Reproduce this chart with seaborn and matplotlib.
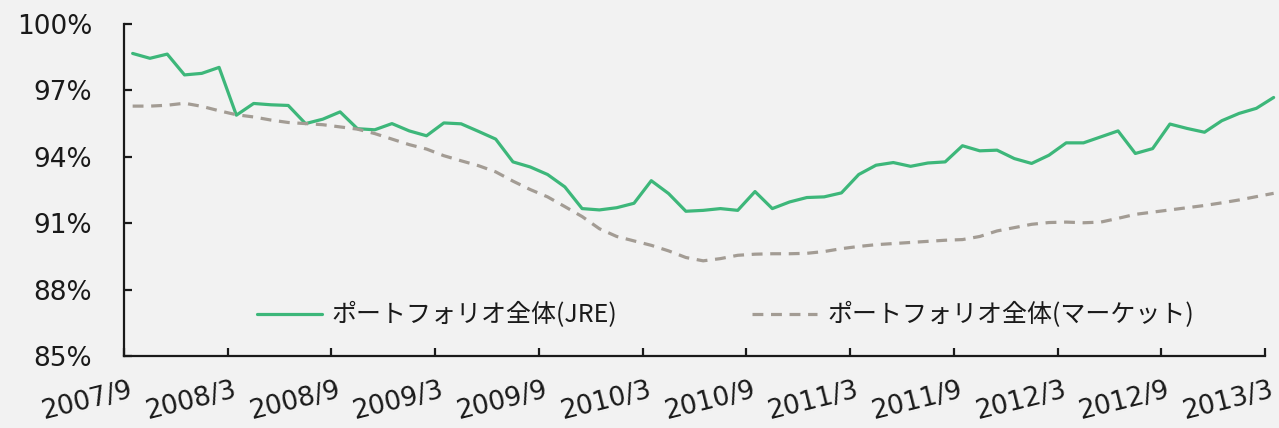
import matplotlib
matplotlib.use("Agg")
import matplotlib.pyplot as plt
import matplotlib.transforms as mtransforms
import numpy as np
import pandas as pd
import seaborn as sns

# Monthly occupancy rates, 2007/9 - 2013/3 (%)
months = [p.strftime("%Y/%m") for p in pd.period_range("2007-09", "2013-03", freq="M")]

jre = [98.67, 98.45, 98.64, 97.70, 97.77, 98.04, 95.88, 96.41, 96.35, 96.32,
       95.50, 95.70, 96.03, 95.27, 95.22, 95.50, 95.17, 94.95, 95.53, 95.49,
       95.15, 94.80, 93.77, 93.54, 93.20, 92.64, 91.66, 91.60, 91.70, 91.90,
       92.92, 92.34, 91.54, 91.58, 91.66, 91.58, 92.43, 91.66, 91.96, 92.16,
       92.19, 92.37, 93.20, 93.62, 93.74, 93.57, 93.72, 93.77, 94.50, 94.27,
       94.30, 93.92, 93.70, 94.07, 94.63, 94.63, 94.90, 95.17, 94.15, 94.37,
       95.48, 95.28, 95.11, 95.63, 95.96, 96.19, 96.68]

market = [96.29, 96.29, 96.33, 96.42, 96.28, 96.08, 95.90, 95.80, 95.66, 95.55,
          95.50, 95.45, 95.35, 95.25, 95.05, 94.80, 94.55, 94.35, 94.05, 93.82,
          93.60, 93.32, 92.90, 92.52, 92.19, 91.75, 91.30, 90.75, 90.40, 90.20,
          90.00, 89.75, 89.45, 89.30, 89.40, 89.55, 89.60, 89.62, 89.62, 89.64,
          89.72, 89.85, 89.95, 90.03, 90.08, 90.13, 90.18, 90.23, 90.26, 90.40,
          90.65, 90.80, 90.95, 91.03, 91.05, 91.02, 91.05, 91.22, 91.40, 91.50,
          91.60, 91.70, 91.80, 91.92, 92.05, 92.20, 92.35]

tick_labels = ["2007/9", "2008/3", "2008/9", "2009/3", "2009/9", "2010/3",
               "2010/9", "2011/3", "2011/9", "2012/3", "2012/9", "2013/3"]
y_ticks = [85, 88, 91, 94, 97, 100]

series_jre = "ポートフォリオ全体(JRE)"
series_mkt = "ポートフォリオ全体(マーケット)"

df = pd.DataFrame({
    "idx": list(range(len(months))) * 2,
    "rate": jre + market,
    "series": [series_jre] * len(months) + [series_mkt] * len(months),
})

sns.set_theme(style="ticks")
plt.rcParams["font.family"] = ["DejaVu Sans", "Noto Sans CJK JP"]
bg = "#f2f2f2"
ink = "#1a1a1a"

fig = plt.figure(figsize=(12.79, 4.28), dpi=100, facecolor=bg)
ax = fig.add_axes([124 / 1279, 1 - 356 / 428, 1141 / 1279, 332 / 428])
ax.set_facecolor(bg)

palette = {series_jre: "#3db77a", series_mkt: "#a39c94"}
sns.lineplot(data=df, x="idx", y="rate", hue="series", style="series",
             palette=palette, dashes={series_jre: "", series_mkt: (3.4, 2.4)},
             linewidth=2.3, ax=ax, legend=True)
for line in ax.lines:
    line.set_clip_on(False)

ax.set_xlim(-0.5, 65.5)
ax.set_ylim(85, 100)
ax.set_xlabel("")
ax.set_ylabel("")

ax.set_yticks(y_ticks)
ax.set_yticklabels([f"{v}%" for v in y_ticks])
ax.set_xticks([-0.5 + 6 * k for k in range(len(tick_labels))])
ax.set_xticklabels(tick_labels)

for side in ["top", "right"]:
    ax.spines[side].set_visible(False)
for side in ["left", "bottom"]:
    ax.spines[side].set_color(ink)
    ax.spines[side].set_linewidth(1.6)

ax.tick_params(axis="both", direction="in", length=6, width=1.6,
               color=ink, labelcolor=ink)
ax.tick_params(axis="y", pad=23, labelsize=19)
ax.tick_params(axis="x", pad=0, labelsize=19)

# Slanted date labels, right end near each tick
offset = mtransforms.ScaledTranslation(0.08, -0.34, fig.dpi_scale_trans)
for lab in ax.get_xticklabels():
    lab.set_rotation(14)
    lab.set_ha("right")
    lab.set_va("center")
    lab.set_rotation_mode("anchor")
    lab.set_transform(lab.get_transform() + offset)

handles, labels = ax.get_legend_handles_labels()
leg = ax.legend(handles, labels, loc="center", bbox_to_anchor=(0.527, 0.122),
                ncol=2, frameon=False, handlelength=2.6, handletextpad=0.4,
                columnspacing=5.4,
                prop={"family": ["Noto Sans CJK JP", "DejaVu Sans"], "size": 18})
for t in leg.get_texts():
    t.set_color(ink)

fig.savefig("out.png", dpi=100, facecolor=bg)
